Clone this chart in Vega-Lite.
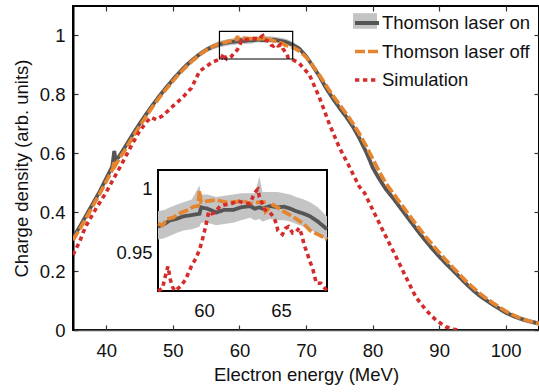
{
 "$schema": "https://vega.github.io/schema/vega-lite/v6.json",
 "width": 466, "height": 324,
 "autosize": {"type": "none"},
 "padding": {"left": 73, "top": 6, "right": 0, "bottom": 62},
 "config": {
  "view": {"stroke": "#000", "strokeWidth": 2},
  "font": "Liberation Sans",
  "axis": {"labelFont": "Liberation Sans", "labelFontSize": 18.5, "labelColor": "#111", "titleFont": "Liberation Sans", "titleFontSize": 18.5, "titleFontWeight": "normal", "titleColor": "#111", "grid": false, "tickColor": "#333", "tickWidth": 1.2, "zindex": 1},
  "legend": {"labelFont": "Liberation Sans", "labelFontSize": 18.5, "labelColor": "#111"}
 },
 "datasets": {
  "box": [{"x1": 57, "x2": 68, "y1": 0.92, "y2": 1.014}],
  "c": [
   {"s":"on","E":35,"v":0.313,"lo":0.304,"hi":0.322},
   {"s":"on","E":36,"v":0.350,"lo":0.341,"hi":0.359},
   {"s":"on","E":37,"v":0.390,"lo":0.381,"hi":0.399},
   {"s":"on","E":38,"v":0.430,"lo":0.421,"hi":0.439},
   {"s":"on","E":39,"v":0.470,"lo":0.461,"hi":0.479},
   {"s":"on","E":40,"v":0.515,"lo":0.506,"hi":0.524},
   {"s":"on","E":40.9,"v":0.555,"lo":0.546,"hi":0.564},
   {"s":"on","E":41.2,"v":0.608,"lo":0.595,"hi":0.618},
   {"s":"on","E":41.4,"v":0.575,"lo":0.566,"hi":0.584},
   {"s":"on","E":42,"v":0.592,"lo":0.583,"hi":0.601},
   {"s":"on","E":43,"v":0.628,"lo":0.619,"hi":0.637},
   {"s":"on","E":44,"v":0.665,"lo":0.656,"hi":0.674},
   {"s":"on","E":45,"v":0.700,"lo":0.691,"hi":0.709},
   {"s":"on","E":46,"v":0.733,"lo":0.724,"hi":0.742},
   {"s":"on","E":47,"v":0.765,"lo":0.756,"hi":0.774},
   {"s":"on","E":48,"v":0.795,"lo":0.786,"hi":0.804},
   {"s":"on","E":49,"v":0.823,"lo":0.814,"hi":0.832},
   {"s":"on","E":50,"v":0.850,"lo":0.841,"hi":0.859},
   {"s":"on","E":51,"v":0.875,"lo":0.866,"hi":0.884},
   {"s":"on","E":52,"v":0.898,"lo":0.889,"hi":0.907},
   {"s":"on","E":53,"v":0.918,"lo":0.909,"hi":0.927},
   {"s":"on","E":54,"v":0.936,"lo":0.927,"hi":0.945},
   {"s":"on","E":55,"v":0.951,"lo":0.942,"hi":0.960},
   {"s":"on","E":56,"v":0.962,"lo":0.952,"hi":0.972},
   {"s":"on","E":57.0,"v":0.970,"lo":0.960,"hi":0.982},
   {"s":"on","E":57.4,"v":0.972,"lo":0.961,"hi":0.983},
   {"s":"on","E":57.8,"v":0.975,"lo":0.963,"hi":0.985},
   {"s":"on","E":58.2,"v":0.976,"lo":0.965,"hi":0.987},
   {"s":"on","E":58.65,"v":0.978,"lo":0.967,"hi":0.989},
   {"s":"on","E":59.2,"v":0.979,"lo":0.968,"hi":0.991},
   {"s":"on","E":59.7,"v":0.980,"lo":0.970,"hi":1.002},
   {"s":"on","E":59.8,"v":0.985,"lo":0.973,"hi":0.995},
   {"s":"on","E":60.2,"v":0.984,"lo":0.973,"hi":0.995},
   {"s":"on","E":60.8,"v":0.981,"lo":0.971,"hi":0.993},
   {"s":"on","E":61.3,"v":0.983,"lo":0.972,"hi":0.994},
   {"s":"on","E":61.9,"v":0.983,"lo":0.973,"hi":0.995},
   {"s":"on","E":62.4,"v":0.985,"lo":0.975,"hi":0.996},
   {"s":"on","E":63.0,"v":0.986,"lo":0.977,"hi":0.996},
   {"s":"on","E":63.3,"v":0.984,"lo":0.975,"hi":0.996},
   {"s":"on","E":63.6,"v":0.985,"lo":0.976,"hi":1.009},
   {"s":"on","E":63.8,"v":0.984,"lo":0.974,"hi":0.997},
   {"s":"on","E":64.3,"v":0.986,"lo":0.976,"hi":0.997},
   {"s":"on","E":64.8,"v":0.985,"lo":0.975,"hi":0.997},
   {"s":"on","E":65.2,"v":0.9855,"lo":0.975,"hi":0.996},
   {"s":"on","E":65.6,"v":0.984,"lo":0.974,"hi":0.995},
   {"s":"on","E":66.0,"v":0.982,"lo":0.972,"hi":0.993},
   {"s":"on","E":66.5,"v":0.980,"lo":0.970,"hi":0.991},
   {"s":"on","E":66.9,"v":0.978,"lo":0.968,"hi":0.989},
   {"s":"on","E":67.4,"v":0.974,"lo":0.964,"hi":0.985},
   {"s":"on","E":67.9,"v":0.969,"lo":0.960,"hi":0.979},
   {"s":"on","E":68.0,"v":0.968,"lo":0.959,"hi":0.978},
   {"s":"on","E":69,"v":0.955,"lo":0.947,"hi":0.963},
   {"s":"on","E":70,"v":0.930,"lo":0.922,"hi":0.938},
   {"s":"on","E":71,"v":0.897,"lo":0.889,"hi":0.905},
   {"s":"on","E":72,"v":0.862,"lo":0.854,"hi":0.870},
   {"s":"on","E":73,"v":0.822,"lo":0.814,"hi":0.830},
   {"s":"on","E":74,"v":0.787,"lo":0.779,"hi":0.795},
   {"s":"on","E":75,"v":0.755,"lo":0.747,"hi":0.763},
   {"s":"on","E":76,"v":0.725,"lo":0.717,"hi":0.733},
   {"s":"on","E":77,"v":0.692,"lo":0.684,"hi":0.700},
   {"s":"on","E":78,"v":0.652,"lo":0.644,"hi":0.660},
   {"s":"on","E":79,"v":0.606,"lo":0.598,"hi":0.614},
   {"s":"on","E":79.6,"v":0.575,"lo":0.567,"hi":0.583},
   {"s":"on","E":80,"v":0.552,"lo":0.544,"hi":0.560},
   {"s":"on","E":81,"v":0.513,"lo":0.505,"hi":0.521},
   {"s":"on","E":82,"v":0.478,"lo":0.470,"hi":0.486},
   {"s":"on","E":83,"v":0.450,"lo":0.442,"hi":0.458},
   {"s":"on","E":84,"v":0.420,"lo":0.412,"hi":0.428},
   {"s":"on","E":85,"v":0.390,"lo":0.382,"hi":0.398},
   {"s":"on","E":86,"v":0.360,"lo":0.352,"hi":0.368},
   {"s":"on","E":87,"v":0.330,"lo":0.322,"hi":0.338},
   {"s":"on","E":88,"v":0.302,"lo":0.294,"hi":0.310},
   {"s":"on","E":89,"v":0.275,"lo":0.267,"hi":0.283},
   {"s":"on","E":90,"v":0.250,"lo":0.242,"hi":0.258},
   {"s":"on","E":91,"v":0.226,"lo":0.218,"hi":0.234},
   {"s":"on","E":92,"v":0.204,"lo":0.196,"hi":0.212},
   {"s":"on","E":93,"v":0.181,"lo":0.173,"hi":0.189},
   {"s":"on","E":94,"v":0.158,"lo":0.150,"hi":0.166},
   {"s":"on","E":95,"v":0.137,"lo":0.129,"hi":0.145},
   {"s":"on","E":96,"v":0.118,"lo":0.110,"hi":0.126},
   {"s":"on","E":97,"v":0.102,"lo":0.094,"hi":0.110},
   {"s":"on","E":98,"v":0.087,"lo":0.079,"hi":0.095},
   {"s":"on","E":99,"v":0.073,"lo":0.065,"hi":0.081},
   {"s":"on","E":100,"v":0.059,"lo":0.051,"hi":0.067},
   {"s":"on","E":101,"v":0.049,"lo":0.041,"hi":0.057},
   {"s":"on","E":102,"v":0.040,"lo":0.032,"hi":0.048},
   {"s":"on","E":103,"v":0.033,"lo":0.025,"hi":0.041},
   {"s":"on","E":104,"v":0.027,"lo":0.019,"hi":0.035},
   {"s":"on","E":105,"v":0.022,"lo":0.014,"hi":0.030},
   {"s":"off","E":35,"v":0.305},
   {"s":"off","E":36,"v":0.342},
   {"s":"off","E":37,"v":0.382},
   {"s":"off","E":38,"v":0.422},
   {"s":"off","E":39,"v":0.462},
   {"s":"off","E":40,"v":0.505},
   {"s":"off","E":41,"v":0.548},
   {"s":"off","E":41.2,"v":0.575},
   {"s":"off","E":41.4,"v":0.560},
   {"s":"off","E":42,"v":0.583},
   {"s":"off","E":43,"v":0.618},
   {"s":"off","E":44,"v":0.656},
   {"s":"off","E":45,"v":0.692},
   {"s":"off","E":46,"v":0.726},
   {"s":"off","E":47,"v":0.759},
   {"s":"off","E":48,"v":0.790},
   {"s":"off","E":49,"v":0.818},
   {"s":"off","E":50,"v":0.845},
   {"s":"off","E":51,"v":0.871},
   {"s":"off","E":52,"v":0.894},
   {"s":"off","E":53,"v":0.915},
   {"s":"off","E":54,"v":0.934},
   {"s":"off","E":55,"v":0.950},
   {"s":"off","E":56,"v":0.962},
   {"s":"off","E":57.0,"v":0.9725},
   {"s":"off","E":57.3,"v":0.971},
   {"s":"off","E":57.6,"v":0.976},
   {"s":"off","E":58.0,"v":0.977},
   {"s":"off","E":58.3,"v":0.980},
   {"s":"off","E":58.65,"v":0.9816},
   {"s":"off","E":59.0,"v":0.983},
   {"s":"off","E":59.3,"v":0.9855},
   {"s":"off","E":59.6,"v":0.986},
   {"s":"off","E":59.7,"v":0.998},
   {"s":"off","E":59.8,"v":0.989},
   {"s":"off","E":60.3,"v":0.990},
   {"s":"off","E":60.8,"v":0.9907},
   {"s":"off","E":61.4,"v":0.989},
   {"s":"off","E":61.9,"v":0.989},
   {"s":"off","E":62.5,"v":0.990},
   {"s":"off","E":63.0,"v":0.988},
   {"s":"off","E":63.6,"v":0.989},
   {"s":"off","E":63.9,"v":0.989},
   {"s":"off","E":64.0,"v":0.9816},
   {"s":"off","E":64.5,"v":0.987},
   {"s":"off","E":64.9,"v":0.984},
   {"s":"off","E":65.2,"v":0.9816},
   {"s":"off","E":65.6,"v":0.979},
   {"s":"off","E":66.0,"v":0.976},
   {"s":"off","E":66.5,"v":0.972},
   {"s":"off","E":66.9,"v":0.967},
   {"s":"off","E":67.4,"v":0.964},
   {"s":"off","E":67.9,"v":0.961},
   {"s":"off","E":68,"v":0.960},
   {"s":"off","E":69,"v":0.947},
   {"s":"off","E":70,"v":0.927},
   {"s":"off","E":71,"v":0.898},
   {"s":"off","E":72,"v":0.866},
   {"s":"off","E":73,"v":0.831},
   {"s":"off","E":74,"v":0.797},
   {"s":"off","E":75,"v":0.766},
   {"s":"off","E":76,"v":0.736},
   {"s":"off","E":77,"v":0.703},
   {"s":"off","E":78,"v":0.667},
   {"s":"off","E":79,"v":0.626},
   {"s":"off","E":80,"v":0.582},
   {"s":"off","E":81,"v":0.538},
   {"s":"off","E":82,"v":0.498},
   {"s":"off","E":83,"v":0.467},
   {"s":"off","E":84,"v":0.436},
   {"s":"off","E":85,"v":0.405},
   {"s":"off","E":86,"v":0.375},
   {"s":"off","E":87,"v":0.345},
   {"s":"off","E":88,"v":0.316},
   {"s":"off","E":89,"v":0.289},
   {"s":"off","E":90,"v":0.263},
   {"s":"off","E":91,"v":0.238},
   {"s":"off","E":92,"v":0.214},
   {"s":"off","E":93,"v":0.190},
   {"s":"off","E":94,"v":0.167},
   {"s":"off","E":95,"v":0.146},
   {"s":"off","E":96,"v":0.126},
   {"s":"off","E":97,"v":0.109},
   {"s":"off","E":98,"v":0.093},
   {"s":"off","E":99,"v":0.078},
   {"s":"off","E":100,"v":0.064},
   {"s":"off","E":101,"v":0.052},
   {"s":"off","E":102,"v":0.042},
   {"s":"off","E":103,"v":0.034},
   {"s":"off","E":104,"v":0.027},
   {"s":"off","E":105,"v":0.022},
   {"s":"sim","E":35,"v":0.255},
   {"s":"sim","E":36,"v":0.300},
   {"s":"sim","E":36.5,"v":0.330},
   {"s":"sim","E":37,"v":0.355},
   {"s":"sim","E":38,"v":0.395},
   {"s":"sim","E":39,"v":0.432},
   {"s":"sim","E":40,"v":0.468},
   {"s":"sim","E":41,"v":0.510},
   {"s":"sim","E":42,"v":0.550},
   {"s":"sim","E":43,"v":0.593},
   {"s":"sim","E":44,"v":0.635},
   {"s":"sim","E":45,"v":0.675},
   {"s":"sim","E":46,"v":0.705},
   {"s":"sim","E":46.7,"v":0.722},
   {"s":"sim","E":47.5,"v":0.714},
   {"s":"sim","E":48.5,"v":0.728},
   {"s":"sim","E":49.3,"v":0.745},
   {"s":"sim","E":50,"v":0.760},
   {"s":"sim","E":51,"v":0.780},
   {"s":"sim","E":51.5,"v":0.790},
   {"s":"sim","E":52.3,"v":0.810},
   {"s":"sim","E":52.8,"v":0.822},
   {"s":"sim","E":53.5,"v":0.855},
   {"s":"sim","E":54,"v":0.878},
   {"s":"sim","E":55,"v":0.895},
   {"s":"sim","E":56,"v":0.910},
   {"s":"sim","E":57.0,"v":0.919},
   {"s":"sim","E":57.3,"v":0.922},
   {"s":"sim","E":57.4,"v":0.928},
   {"s":"sim","E":57.55,"v":0.935},
   {"s":"sim","E":57.65,"v":0.939},
   {"s":"sim","E":57.8,"v":0.929},
   {"s":"sim","E":57.95,"v":0.923},
   {"s":"sim","E":58.1,"v":0.920},
   {"s":"sim","E":58.5,"v":0.924},
   {"s":"sim","E":58.8,"v":0.929},
   {"s":"sim","E":59.2,"v":0.940},
   {"s":"sim","E":59.45,"v":0.945},
   {"s":"sim","E":59.7,"v":0.952},
   {"s":"sim","E":59.85,"v":0.958},
   {"s":"sim","E":60.1,"v":0.970},
   {"s":"sim","E":60.3,"v":0.9816},
   {"s":"sim","E":60.5,"v":0.980},
   {"s":"sim","E":60.7,"v":0.981},
   {"s":"sim","E":61.04,"v":0.986},
   {"s":"sim","E":61.36,"v":0.987},
   {"s":"sim","E":61.8,"v":0.988},
   {"s":"sim","E":62.2,"v":0.990},
   {"s":"sim","E":62.7,"v":0.988},
   {"s":"sim","E":63.0,"v":0.988},
   {"s":"sim","E":63.2,"v":0.9938},
   {"s":"sim","E":63.4,"v":0.998},
   {"s":"sim","E":63.5,"v":0.999},
   {"s":"sim","E":63.6,"v":0.993},
   {"s":"sim","E":63.97,"v":0.983},
   {"s":"sim","E":64.2,"v":0.982},
   {"s":"sim","E":64.5,"v":0.978},
   {"s":"sim","E":64.7,"v":0.9725},
   {"s":"sim","E":64.8,"v":0.967},
   {"s":"sim","E":65.1,"v":0.964},
   {"s":"sim","E":65.3,"v":0.9687},
   {"s":"sim","E":65.5,"v":0.970},
   {"s":"sim","E":65.77,"v":0.965},
   {"s":"sim","E":66.0,"v":0.966},
   {"s":"sim","E":66.2,"v":0.969},
   {"s":"sim","E":66.4,"v":0.962},
   {"s":"sim","E":66.5,"v":0.956},
   {"s":"sim","E":66.7,"v":0.950},
   {"s":"sim","E":66.85,"v":0.944},
   {"s":"sim","E":67.07,"v":0.9375},
   {"s":"sim","E":67.2,"v":0.931},
   {"s":"sim","E":67.3,"v":0.926},
   {"s":"sim","E":67.6,"v":0.926},
   {"s":"sim","E":68,"v":0.918},
   {"s":"sim","E":69,"v":0.905},
   {"s":"sim","E":70.5,"v":0.867},
   {"s":"sim","E":72,"v":0.790},
   {"s":"sim","E":73.5,"v":0.700},
   {"s":"sim","E":75,"v":0.620},
   {"s":"sim","E":76.5,"v":0.555},
   {"s":"sim","E":78,"v":0.487},
   {"s":"sim","E":78.8,"v":0.465},
   {"s":"sim","E":80.5,"v":0.386},
   {"s":"sim","E":82,"v":0.317},
   {"s":"sim","E":83.5,"v":0.250},
   {"s":"sim","E":85,"v":0.180},
   {"s":"sim","E":86.5,"v":0.112},
   {"s":"sim","E":88,"v":0.068},
   {"s":"sim","E":89.5,"v":0.034},
   {"s":"sim","E":91,"v":0.011},
   {"s":"sim","E":92,"v":0.003},
   {"s":"sim","E":93,"v":0.0}
  ]
 },
 "layer": [
  {
   "layer": [
    {
     "data": {"name": "c"},
     "transform": [{"filter": "datum.s == 'on'"}],
     "mark": {"type": "area", "clip": true},
     "encoding": {
      "x": {"field": "E", "type": "quantitative", "scale": {"domain": [35, 105], "nice": false, "zero": false},
            "axis": {"orient": "bottom", "values": [40, 50, 60, 70, 80, 90, 100], "title": "Electron energy (MeV)", "tickSize": -5, "labelPadding": 16, "domainColor": "#555", "domainWidth": 1.5, "titleBaseline": "alphabetic", "titleY": 50, "titleX": 233}},
      "y": {"field": "lo", "type": "quantitative", "scale": {"domain": [0, 1.1], "nice": false, "zero": false},
            "axis": {"orient": "left", "values": [0, 0.2, 0.4, 0.6, 0.8, 1], "format": "~g", "title": "Charge density (arb. units)", "tickSize": -5, "labelPadding": 13, "domainColor": "#000", "domainWidth": 2, "titleX": -46, "titleY": 162, "titleBaseline": "alphabetic"}},
      "y2": {"field": "hi"},
      "fill": {"field": "s", "type": "nominal", "scale": {"domain": ["on"], "range": ["#c4c4c4"]},
               "legend": {"orient": "none", "legendX": 280, "legendY": 3, "title": null, "symbolType": "M-1,-0.65H1V0.65H-1Z", "symbolSize": 576, "symbolStrokeWidth": 0, "labelExpr": "''", "zindex": 0}}
     }
    },
    {
     "data": {"name": "c"},
     "mark": {"type": "line", "clip": true, "strokeCap": "butt"},
     "encoding": {
      "x": {"field": "E", "type": "quantitative", "axis": {"orient": "top", "values": [40, 50, 60, 70, 80, 90, 100], "labels": false, "title": null, "domain": false, "tickSize": -5}},
      "y": {"field": "v", "type": "quantitative", "axis": {"orient": "right", "values": [0, 0.2, 0.4, 0.6, 0.8, 1], "labels": false, "title": null, "domain": false, "tickSize": -5}},
      "strokeWidth": {"field": "s", "type": "nominal", "scale": {"domain": ["on", "off", "sim"], "range": [3.8, 3.6, 4.3]}, "legend": null},
      "color": {"field": "s", "type": "nominal", "scale": {"domain": ["on", "off", "sim"], "range": ["#555555", "#e5852f", "#d42b2b"]},
                "legend": {"orient": "none", "legendX": 280, "legendY": 3, "title": null, "symbolType": "stroke", "symbolSize": 576, "symbolStrokeWidth": 4, "labelOffset": 1, "rowPadding": 4.5, "labelExpr": "datum.label == 'on' ? 'Thomson laser on' : datum.label == 'off' ? 'Thomson laser off' : 'Simulation'", "zindex": 1}},
      "strokeDash": {"field": "s", "type": "nominal", "scale": {"domain": ["on", "off", "sim"], "range": [[1, 0], [10, 3], [4.3, 3.7]]},
                "legend": {"orient": "none", "legendX": 280, "legendY": 3, "title": null, "symbolType": "stroke", "symbolSize": 576, "symbolStrokeWidth": 4, "labelOffset": 1, "rowPadding": 4.5, "labelExpr": "datum.label == 'on' ? 'Thomson laser on' : datum.label == 'off' ? 'Thomson laser off' : 'Simulation'", "zindex": 1}}
     }
    },
    {
     "data": {"name": "box"},
     "mark": {"type": "rect", "fill": "transparent", "stroke": "#000", "strokeWidth": 1.2},
     "encoding": {
      "x": {"field": "x1", "type": "quantitative", "axis": null},
      "x2": {"field": "x2"},
      "y": {"field": "y1", "type": "quantitative", "axis": null},
      "y2": {"field": "y2"}
     }
    }
   ],
   "resolve": {"axis": {"x": "independent", "y": "independent"}}
  },
  {
   "layer": [
    {
     "data": {"name": "box"},
     "mark": {"type": "rect", "fill": "#ffffff", "stroke": "#000", "strokeWidth": 2},
     "encoding": {
      "x": {"field": "x1", "type": "quantitative", "scale": {"domain": [57, 68], "range": [85, 254], "nice": false, "zero": false, "clamp": true},
            "axis": {"orient": "bottom", "offset": -39, "values": [60, 65], "title": null, "domain": false, "tickSize": -5, "labelPadding": 15}},
      "x2": {"field": "x2"},
      "y": {"field": "y1", "type": "quantitative", "scale": {"domain": [0.92, 1.014], "range": [285, 164], "nice": false, "zero": false, "clamp": true},
            "axis": {"orient": "left", "offset": -85, "values": [0.95, 1], "format": "~g", "title": null, "domain": false, "tickSize": -5, "labelPadding": 11}},
      "y2": {"field": "y2"}
     }
    },
    {
     "data": {"name": "c"},
     "transform": [{"filter": "datum.s == 'on' && datum.E >= 57 && datum.E <= 68"}],
     "mark": {"type": "area"},
     "encoding": {
      "x": {"field": "E", "type": "quantitative", "axis": {"orient": "top", "offset": -164, "values": [60, 65], "labels": false, "title": null, "domain": false, "tickSize": -5}},
      "y": {"field": "lo", "type": "quantitative", "axis": {"orient": "right", "offset": -212, "values": [0.95, 1], "labels": false, "title": null, "domain": false, "tickSize": -5}},
      "y2": {"field": "hi"},
      "fill": {"field": "s", "type": "nominal", "legend": null}
     }
    },
    {
     "data": {"name": "c"},
     "transform": [{"filter": "datum.E >= 57 && datum.E <= 68"}],
     "mark": {"type": "line", "strokeCap": "butt"},
     "encoding": {
      "x": {"field": "E", "type": "quantitative", "axis": null},
      "y": {"field": "v", "type": "quantitative", "axis": null},
      "strokeWidth": {"field": "s", "type": "nominal", "legend": null},
      "color": {"field": "s", "type": "nominal", "legend": null},
      "strokeDash": {"field": "s", "type": "nominal", "legend": null}
     }
    }
   ],
   "resolve": {"axis": {"x": "independent", "y": "independent"}}
  }
 ],
 "resolve": {"scale": {"x": "independent", "y": "independent"}}
}
